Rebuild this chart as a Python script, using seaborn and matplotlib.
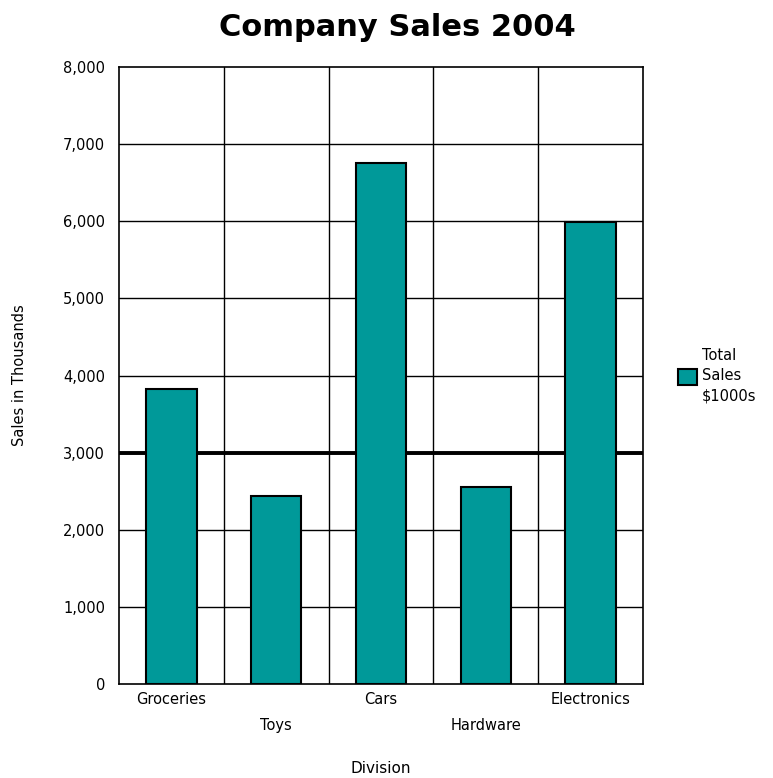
import matplotlib
matplotlib.use("Agg")
import matplotlib.pyplot as plt
import seaborn as sns
import pandas as pd
from matplotlib.patches import Patch

divisions = ["Groceries", "Toys", "Cars", "Hardware", "Electronics"]
sales = [3830, 2440, 6760, 2550, 5990]
reference_line = 3000
yticks = [0, 1000, 2000, 3000, 4000, 5000, 6000, 7000, 8000]
ytick_labels = ["0", "1,000", "2,000", "3,000", "4,000", "5,000", "6,000", "7,000", "8,000"]

sns.set_theme(style="white")
plt.rcParams['font.family'] = ['DejaVu Sans']
plt.rcParams['text.color'] = 'black'
plt.rcParams['axes.labelcolor'] = 'black'
plt.rcParams['xtick.color'] = 'black'
plt.rcParams['ytick.color'] = 'black'

df = pd.DataFrame({"Division": divisions, "Sales": sales})

fig = plt.figure(figsize=(7.73, 7.78), dpi=100)
ax = fig.add_axes([119/773, 1 - 684/778, (643-119)/773, (684-67)/778])

sns.barplot(data=df, x="Division", y="Sales", color="#009999", saturation=1,
            width=0.48, edgecolor="black", linewidth=1.5, ax=ax, zorder=3)

ax.set_xlim(-0.5, len(divisions) - 0.5)
ax.set_ylim(0, 8000)
ax.set_yticks(yticks)
ax.set_yticklabels(ytick_labels, fontsize=10.5)

# grid: horizontal at ticks, vertical at category boundaries
for y in yticks[1:-1]:
    ax.axhline(y, color="black", lw=1, zorder=1)
for i in range(len(divisions) - 1):
    ax.axvline(i + 0.5, color="black", lw=1, zorder=1)
ax.axhline(reference_line, color="black", lw=2.8, zorder=2)

for s in ax.spines.values():
    s.set_color("black")
    s.set_linewidth(1.2)

ax.set_xticks(range(len(divisions)))
ax.set_xticklabels([d if i % 2 == 0 else "\n" + d for i, d in enumerate(divisions)], fontsize=10.5,
                   linespacing=1.9)
ax.tick_params(axis="both", length=0, pad=6)
ax.tick_params(axis="y", pad=10)

ax.set_xlabel("Division", fontsize=11, labelpad=20)
ax.set_ylabel("Sales in Thousands", fontsize=10.5, labelpad=26)

fig.text(397/773, 1 - 28/778, "Company Sales 2004", ha="center", va="center",
         fontsize=22, fontweight="bold", color="black")

handle = Patch(facecolor="#009999", edgecolor="black", linewidth=1.5)
leg = ax.legend([handle], ["Total\nSales\n$1000s"], loc="center left",
                bbox_to_anchor=(1.0, 0.5), frameon=False, fontsize=10.5,
                handlelength=1.3, handleheight=1.3, handletextpad=0.35, borderaxespad=2.0)
leg.get_texts()[0].set_linespacing(1.45)

fig.savefig("out.png", dpi=100, facecolor="white")
